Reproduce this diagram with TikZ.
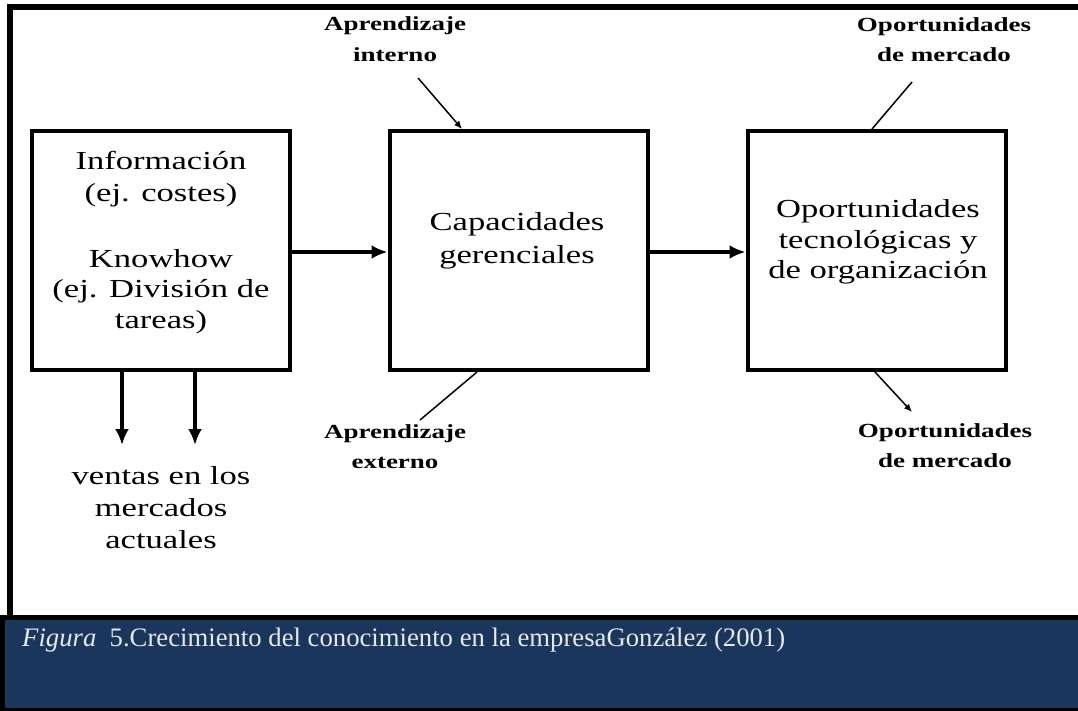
\documentclass[tikz,border=0pt]{standalone}
\usepackage{fontspec}
\setmainfont{Liberation Serif}
\newfontfamily\boxfont[FakeStretch=1.33]{Liberation Serif}
\newfontfamily\lblfont[FakeStretch=1.35,UprightFont={* Bold}]{Liberation Serif}
\usetikzlibrary{arrows.meta}
\definecolor{capblue}{RGB}{27,54,93}
\definecolor{captext}{RGB}{232,232,232}
\tikzset{
  blk/.style={draw=black,line width=4pt,minimum width=258pt,minimum height=239pt,inner sep=0pt},
  bt/.style={anchor=base,inner sep=0pt,font=\boxfont\fontsize{26}{32}\selectfont},
  lt/.style={anchor=base,inner sep=0pt,font=\lblfont\fontsize{20}{24}\selectfont},
  flow/.style={line width=3.5pt,-{Latex[length=16pt,width=14pt]}},
  thinarrow/.style={line width=1.5pt,-{Latex[length=8pt,width=7pt]}},
  thinline/.style={line width=1.5pt},
}
\begin{document}
\begin{tikzpicture}[x=1pt,y=-1pt]
\useasboundingbox (0,0) rectangle (1078,711);
\fill[white] (0,0) rectangle (1078,711);
% frame of the figure and caption band
\fill[black] (7,4) rectangle (1078,10);
\fill[black] (7,4) rectangle (13,615);
\fill[black] (0,615) rectangle (1078,620);
\fill[capblue] (0,620) rectangle (1078,708);
\fill[black] (0,620) rectangle (5,711);
\fill[black] (0,708) rectangle (1078,711);

% the three blocks
\node[blk] (info) at (160.5,250.5) {};
\node[blk] (cap) at (518.5,250.5) {};
\node[blk] (opo) at (876.5,250.5) {};

% block texts
\node[bt] (i1) at (161,170) {Información};
\node[bt] (i2) at (161,202) {(ej. costes)};
\node[bt] (i3) at (161,267) {Knowhow};
\node[bt] (i4) at (161,297) {(ej. División de};
\node[bt] (i5) at (161,328) {tareas)};

\node[bt] (c1) at (517,231) {Capacidades};
\node[bt] (c2) at (517,263) {gerenciales};

\node[bt] (o1) at (878,218) {Oportunidades};
\node[bt] (o2) at (878,248) {tecnológicas y};
\node[bt] (o3) at (878,278) {de organización};

\node[bt] (v1) at (161,484) {ventas en los};
\node[bt] (v2) at (161,516) {mercados};
\node[bt] (v3) at (161,548) {actuales};

% side labels
\node[lt] (ai1) at (395,31) {Aprendizaje};
\node[lt] (ai2) at (395,62) {interno};
\node[lt] (om1) at (944,32) {Oportunidades};
\node[lt] (om2) at (944,62) {de mercado};
\node[lt] (ae1) at (395,438) {Aprendizaje};
\node[lt] (ae2) at (395,468) {externo};
\node[lt] (ob1) at (945,437) {Oportunidades};
\node[lt] (ob2) at (945,467) {de mercado};

% free ends of connectors
\coordinate (d1) at (122,445);
\coordinate (d2) at (195,445);
\coordinate (aiS) at (418,78);
\coordinate (omS) at (912,82);
\coordinate (aeE) at (420,420);
\coordinate (obE) at (912,412);

% connectors
\draw[flow] (info.east |- 0,252) -- (cap.west |- 0,252);
\draw[flow] (cap.east |- 0,252) -- (opo.west |- 0,252);
\draw[flow] (info.south -| d1) -- (d1);
\draw[flow] (info.south -| d2) -- (d2);
\draw[thinarrow] (aiS) -- (cap.north -| 462,0);
\draw[thinline] (omS) -- (opo.north -| 872,0);
\draw[thinline] (cap.south -| 477,0) -- (aeE);
\draw[thinarrow] (opo.south -| 875,0) -- (obE);

% caption
\node[anchor=base west,inner sep=0pt,text=captext,font=\fontsize{26.7}{30}\selectfont] (capt) at (22,646)
  {\textit{Figura}\ \ 5.Crecimiento del conocimiento en la empresaGonzález (2001)};
\end{tikzpicture}
\end{document}
